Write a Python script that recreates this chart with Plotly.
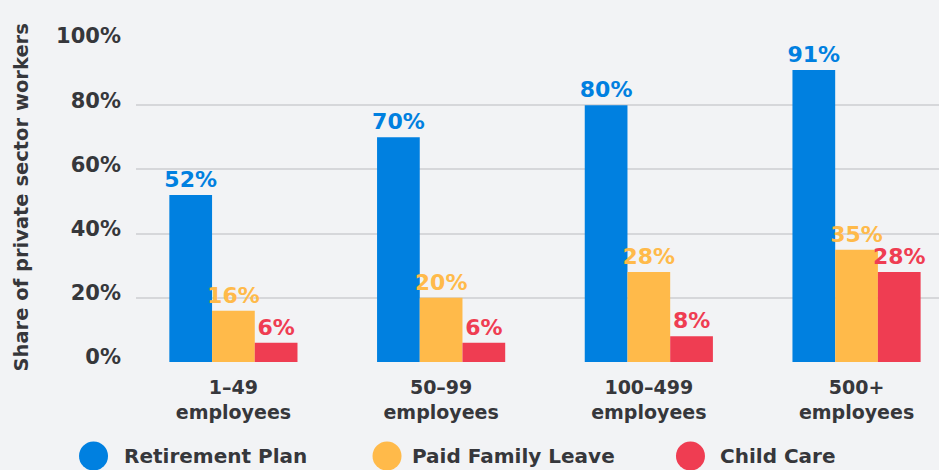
import plotly.graph_objects as go

categories = ["1–49<br>employees", "50–99<br>employees", "100–499<br>employees", "500+<br>employees"]
series_names = ["Retirement Plan", "Paid Family Leave", "Child Care"]
retirement = [52, 70, 80, 91]
paid_leave = [16, 20, 28, 35]
child_care = [6, 6, 8, 28]
y_ticks = [0, 20, 40, 60, 80, 100]
y_tick_labels = ["0%", "20%", "40%", "60%", "80%", "100%"]

colors = ["#0080E0", "#FFBA4A", "#EF3D52"]
FONT = "DejaVu Sans"
TXT = "#36373B"

fig = go.Figure()
for name, vals, col in zip(series_names, [retirement, paid_leave, child_care], colors):
    fig.add_trace(go.Bar(
        x=list(range(len(categories))), y=vals, name=name,
        marker=dict(color=col, line=dict(width=0)),
        text=[f"{v}%" for v in vals], textposition="outside",
        textfont=dict(color=col, size=22, family=FONT, weight="bold"),
        constraintext="none",
        cliponaxis=False, showlegend=False,
    ))

# Legend (circles + labels)
leg_x = [-0.0529, 0.3126, 0.6905]
txt_x = [-0.0174, 0.3412, 0.7248]
leg_y = -0.2928
for name, col, cx, tx in zip(series_names, colors, leg_x, txt_x):
    fig.add_shape(type="circle", xref="paper", yref="paper",
                  xsizemode="pixel", ysizemode="pixel",
                  xanchor=cx, yanchor=leg_y, x0=-14.5, x1=14.5, y0=-14.5, y1=14.5,
                  fillcolor=col, line=dict(width=0))
    fig.add_annotation(x=tx, y=leg_y, xref="paper", yref="paper", text=name,
                       showarrow=False, xanchor="left", yanchor="middle",
                       font=dict(size=20, color=TXT, family=FONT, weight="bold"))

fig.add_annotation(x=-0.142, y=0.5125, xref="paper", yref="paper",
                   text="Share of private sector workers", textangle=-90,
                   showarrow=False, xanchor="center", yanchor="middle",
                   font=dict(size=19.5, color=TXT, family=FONT, weight="bold"))

fig.update_layout(
    width=939, height=470,
    margin=dict(l=136, r=0, t=41, b=108),
    paper_bgcolor="#F2F3F5", plot_bgcolor="#F2F3F5",
    barmode="group", bargap=0.383, bargroupgap=0,
    font=dict(family=FONT, color=TXT),
    xaxis=dict(tickmode="array", tickvals=list(range(len(categories))), ticktext=categories,
               range=[-0.469, 3.397], showgrid=False, zeroline=False, showline=False,
               ticklabelstandoff=12,
               tickfont=dict(size=19, color=TXT, family=FONT, weight="bold"), ticks=""),
    yaxis=dict(range=[0, 100], tickvals=y_ticks, ticktext=y_tick_labels,
               showgrid=True, gridcolor="#D6D7DA", gridwidth=1.5, zeroline=False,
               showline=False, ticks="", ticklabelstandoff=14, ticklabelshift=-5,
               tickfont=dict(size=21, color=TXT, family=FONT, weight="bold")),
)

fig.write_html("out.html", config={"displayModeBar": False},
               post_script="document.body.style.margin='0';document.body.style.overflow='hidden';")
